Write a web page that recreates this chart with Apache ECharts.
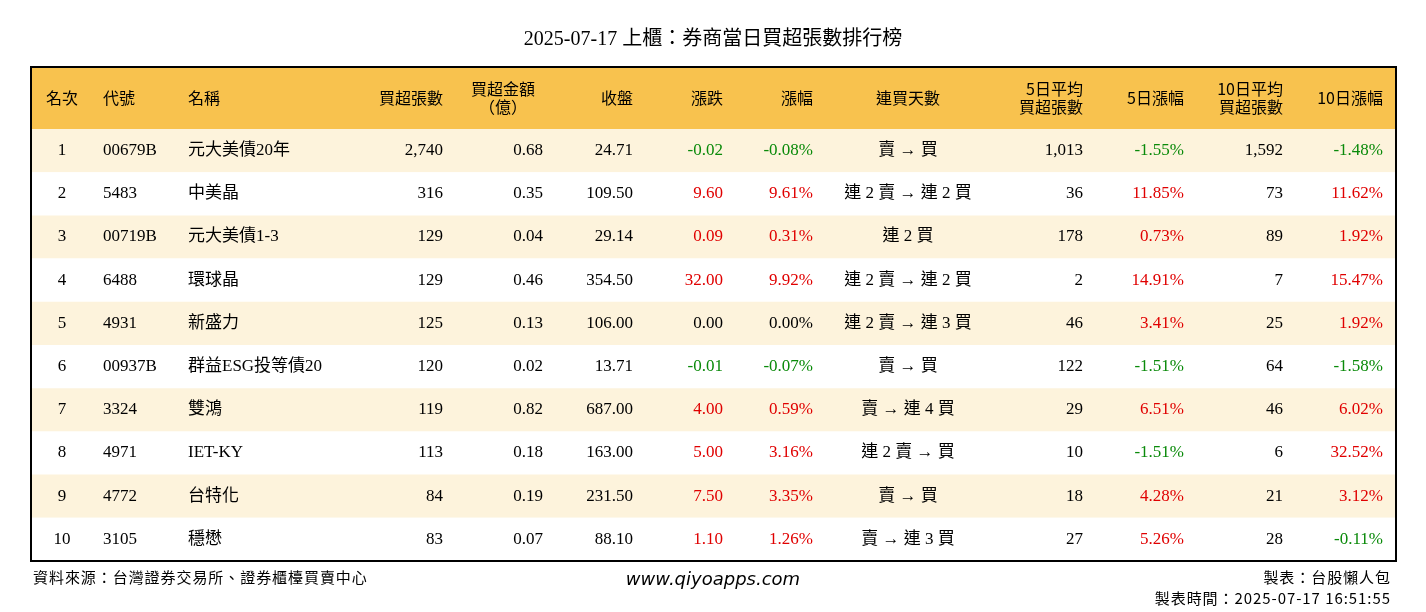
<!DOCTYPE html>
<html><head><meta charset="utf-8">
<script src="https://cdn.jsdelivr.net/npm/echarts@6/dist/echarts.min.js"></script>
<style>html,body{margin:0;background:#fff}#main{width:1426px;height:612px}</style>
</head><body><div id="main"></div>
<script>
var codes = ['00679B','5483','00719B','6488','4931','00937B','3324','4971','4772','3105'];
var names = ['元大美債20年','中美晶','元大美債1-3','環球晶','新盛力','群益ESG投等債20','雙鴻','IET-KY','台特化','穩懋'];
var netBuy = [2740,316,129,129,125,120,119,113,84,83];
var amount = [0.68,0.35,0.04,0.46,0.13,0.02,0.82,0.18,0.19,0.07];
var closes = [24.71,109.50,29.14,354.50,106.00,13.71,687.00,163.00,231.50,88.10];
var change = [-0.02,9.60,0.09,32.00,0.00,-0.01,4.00,5.00,7.50,1.10];
var pct = [-0.08,9.61,0.31,9.92,0.00,-0.07,0.59,3.16,3.35,1.26];
var days = ['賣 → 買','連 2 賣 → 連 2 買','連 2 買','連 2 賣 → 連 2 買','連 2 賣 → 連 3 買','賣 → 買','賣 → 連 4 買','連 2 賣 → 買','賣 → 買','賣 → 連 3 買'];
var avg5 = [1013,36,178,2,46,122,29,10,18,27];
var pct5 = [-1.55,11.85,0.73,14.91,3.41,-1.51,6.51,-1.51,4.28,5.26];
var avg10 = [1592,73,89,7,25,64,46,6,21,28];
var pct10 = [-1.48,11.62,1.92,15.47,1.92,-1.58,6.02,32.52,3.12,-0.11];

var FONT = '"Liberation Serif","Noto Sans CJK TC",serif';
function sc(v){ return v < 0 ? '#0a8a0a' : (v > 0 ? '#e00000' : '#000'); }
function thou(v){ return v.toLocaleString('en-US'); }
function spaced(s){ return s.split('').join('\u200a'); }

var cols = [
  {x:62, a:'center'}, {x:103, a:'left'}, {x:188, a:'left'}, {x:443, a:'right'},
  {x:543, a:'right'}, {x:633, a:'right'}, {x:723, a:'right'}, {x:813, a:'right'},
  {x:908, a:'center'}, {x:1083, a:'right'}, {x:1184, a:'right'}, {x:1283, a:'right'}, {x:1383, a:'right'}
];
var headers = ['名次','代號','名稱','買超張數','買超金額\n（億）','收盤','漲跌','漲幅','連買天數','5日平均\n買超張數','5日漲幅','10日平均\n買超張數','10日漲幅'];
var headerX = [62,103,188,443,503,633,723,813,908,1083,1184,1283,1383];
var headerA = ['center','left','left','right','center','right','right','right','center','right','right','right','right'];

var chart = echarts.init(document.getElementById('main'));
var graphic = [
  {type:'text', left:'center', top:30, style:{text:'2025-07-17 上櫃：券商當日買超張數排行榜', font:'20px '+FONT, fill:'#000'}},
  {type:'rect', shape:{x:31,y:67,width:1365,height:62}, style:{fill:'#f8c24e'}}
];
headers.forEach(function(h,i){
  graphic.push({type:'text', x:headerX[i], y:98, style:{text:h, font:'16px "Noto Sans CJK TC",sans-serif', fill:'#000', align:headerA[i], verticalAlign:'middle', lineHeight:18}});
});
graphic.push({type:'rect', z:100, shape:{x:31,y:67,width:1365,height:494}, style:{fill:'none', stroke:'#000', lineWidth:2}});
graphic.push({type:'text', x:33, y:577, style:{text:spaced('資料來源：台灣證券交易所、證券櫃檯買賣中心'), font:'15px "Noto Sans CJK TC"', fill:'#000', verticalAlign:'middle'}});
graphic.push({type:'text', x:713, y:580, style:{text:'www.qiyoapps.com', font:'italic 18px "DejaVu Sans"', fill:'#000', align:'center', verticalAlign:'middle'}});
graphic.push({type:'text', x:1390, y:577, style:{text:spaced('製表：台股懶人包'), font:'15px "Noto Sans CJK TC"', fill:'#000', align:'right', verticalAlign:'middle'}});
graphic.push({type:'text', x:1390, y:598, style:{text:spaced('製表時間：2025-07-17 16:51:55'), font:'15px "Noto Sans CJK TC"', fill:'#000', align:'right', verticalAlign:'middle'}});

chart.setOption({
  animation:false,
  grid:{left:31, right:30, top:129, bottom:51},
  xAxis:{type:'value', min:0, max:1, show:false},
  yAxis:{type:'category', inverse:true, data:codes, show:false},
  graphic:graphic,
  series:[{
    type:'custom',
    data:codes.map(function(c,i){ return [0,i]; }),
    encode:{x:0, y:1},
    renderItem:function(params, api){
      var i = api.value(1);
      var p = api.coord([0,i]);
      var h = api.size([0,1])[1];
      var y = p[1];
      var vals = [
        [String(i+1),'#000'], [codes[i],'#000'], [names[i],'#000'], [thou(netBuy[i]),'#000'],
        [amount[i].toFixed(2),'#000'], [closes[i].toFixed(2),'#000'],
        [change[i].toFixed(2),sc(change[i])], [pct[i].toFixed(2)+'%',sc(pct[i])],
        [days[i],'#000'], [thou(avg5[i]),'#000'], [pct5[i].toFixed(2)+'%',sc(pct5[i])],
        [thou(avg10[i]),'#000'], [pct10[i].toFixed(2)+'%',sc(pct10[i])]
      ];
      var children = [{type:'rect', shape:{x:31, y:y-h/2, width:1365, height:h}, style:{fill: i%2===0 ? '#fdf3dc' : '#ffffff'}}];
      vals.forEach(function(v,k){
        children.push({type:'text', x:cols[k].x, y:y, style:{text:v[0], fill:v[1], font:'17px '+FONT, align:cols[k].a, verticalAlign:'middle'}});
      });
      return {type:'group', children:children};
    }
  }]
});
</script></body></html>
